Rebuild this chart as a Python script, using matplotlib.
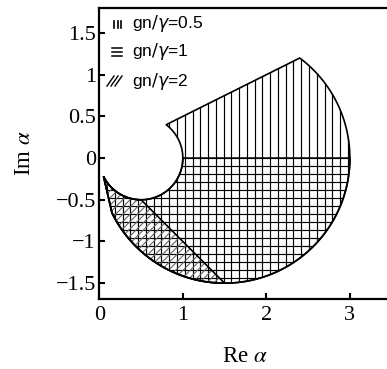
import numpy as np
import matplotlib
matplotlib.use("Agg")
import matplotlib.pyplot as plt
from matplotlib.patches import Polygon
from matplotlib.collections import LineCollection

plt.rcParams['font.family'] = ['Liberation Serif', 'DejaVu Serif']
plt.rcParams['mathtext.fontset'] = 'stix'

# stability regions in the complex alpha plane, r = d*cos(theta) in polar form
gn_gamma = [0.5, 1, 2]
theta_upper_deg = [26.57, 0.0, -45.0]
theta_lower_deg = [-77.0, -77.0, -77.0]
inner_diam = 1.0
outer_diam = 3.0
hatch_kind = ['vert', 'horiz', 'diag']

x_ticks = [0, 1, 2, 3]
y_ticks = [-1.5, -1, -0.5, 0, 0.5, 1, 1.5]
y_ticklabels = ['\u22121.5', '\u22121', '\u22120.5', '0', '0.5', '1', '1.5']


def region_outline(th_lo, th_hi, n=200):
    th = np.radians(np.linspace(th_lo, th_hi, n))
    r_out = outer_diam * np.cos(th)
    r_in = inner_diam * np.cos(th)
    xo, yo = r_out * np.cos(th), r_out * np.sin(th)
    xi, yi = r_in * np.cos(th), r_in * np.sin(th)
    xs = np.concatenate([xo, xi[::-1]])
    ys = np.concatenate([yo, yi[::-1]])
    return np.column_stack([xs, ys])


def hatch_segments(kind):
    if kind == 'vert':
        xs = np.arange(0.0, 3.6, 0.093)
        return [[(x, -2), (x, 2)] for x in xs]
    if kind == 'horiz':
        ys = np.arange(0.0, -2.0, -0.096)
        return [[(-1, y), (4, y)] for y in ys]
    cs = np.arange(-4.0, 2.0, 0.087)
    return [[(-1, -1 + c), (4, 4 + c)] for c in cs]


hatch_color = {'vert': 'black', 'horiz': 'black', 'diag': '0.4'}
hatch_lw = {'vert': 0.85, 'horiz': 0.85, 'diag': 0.8}

fig = plt.figure(figsize=(3.87, 3.69), dpi=100)
ax = fig.add_axes([99.3 / 387, 70 / 369, 291.5 / 387, 291 / 369])

for lo, hi, kind in zip(theta_lower_deg, theta_upper_deg, hatch_kind):
    poly = Polygon(region_outline(lo, hi), closed=True, fill=False,
                   edgecolor='black', linewidth=1.2, zorder=3)
    ax.add_patch(poly)
    lc = LineCollection(hatch_segments(kind), colors=hatch_color[kind],
                        linewidths=hatch_lw[kind], zorder=2)
    ax.add_collection(lc)
    lc.set_clip_path(poly)

ax.set_xlim(0, 3.49)
ax.set_ylim(-1.69, 1.80)
ax.set_xticks(x_ticks)
ax.set_xticklabels([str(t) for t in x_ticks])
ax.set_yticks(y_ticks)
ax.set_yticklabels(y_ticklabels)
ax.tick_params(direction='in', length=4, width=1.5, labelsize=16)
ax.tick_params(axis='x', pad=5)
ax.tick_params(axis='y', pad=2.5)
for sp in ax.spines.values():
    sp.set_linewidth(1.6)

ax.set_xlabel(r'Re $\alpha$', fontsize=16.5, labelpad=15)
ax.set_ylabel(r'Im $\alpha$', fontsize=16.5, labelpad=15)

# legend drawn by hand: small hatch swatches and labels
tr = ax.transAxes
def px(x, y):
    # pixel position in the figure -> axes fraction
    return ((x - 99.3) / 291.5, (299 - y) / 291)

labels = [r'gn$/\gamma$=0.5', r'gn$/\gamma$=1', r'gn$/\gamma$=2']
rows_y = [24, 52, 81]
for lab, yc, kind in zip(labels, rows_y, hatch_kind):
    if kind == 'vert':
        for xx in (114, 117.5, 121):
            ax.plot(*zip(px(xx, yc - 3.5), px(xx, yc + 3.5)), transform=tr,
                    color='black', lw=1.2, clip_on=False)
    elif kind == 'horiz':
        for yy in (yc - 3.5, yc, yc + 3.5):
            ax.plot(*zip(px(112, yy), px(121.5, yy)), transform=tr,
                    color='black', lw=1.1, clip_on=False)
    else:
        for xx in (107, 111, 115):
            ax.plot(*zip(px(xx, yc + 5), px(xx + 7, yc - 5)), transform=tr,
                    color='black', lw=1.0, clip_on=False)
    ax.text(*px(132, yc), lab, transform=tr, fontsize=12.5, va='center',
            ha='left', family=['Liberation Sans', 'DejaVu Sans'],
            math_fontfamily='dejavusans')

fig.savefig('out.png', dpi=100)
